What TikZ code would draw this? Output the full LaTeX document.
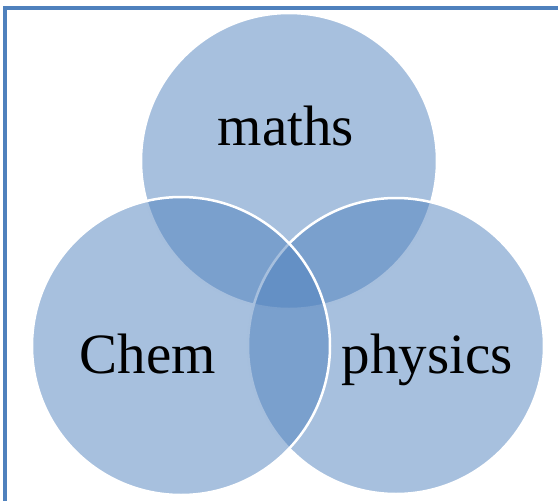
\documentclass[tikz,border=0pt]{standalone}
\usepackage{fontspec}
\setmainfont{Liberation Serif}
\definecolor{setblue}{HTML}{4F81BD}
\tikzset{
  setdisk/.style={fill=setblue, fill opacity=0.5, draw=white, line width=2.5pt},
  setlabel/.style={font=\fontsize{57}{60}\selectfont, inner sep=0pt, anchor=base}
}
\begin{document}
\begin{tikzpicture}[x=1pt, y=-1pt]
    \useasboundingbox (0,0) rectangle (558,501);
    \clip (0,0) rectangle (558,501);
    % frame
    \draw[setblue, line width=3.5pt] (5,520) -- (5,8) -- (580,8);
    % circle centres
    \coordinate (cm) at (289,161);
    \coordinate (cc) at (181,346);
    \coordinate (cp) at (396,346);
    % sets (drawn top, right, left)
    \filldraw[setdisk] (cm) circle (148);
    \filldraw[setdisk] (cp) circle (148);
    \filldraw[setdisk] (cc) circle (149);
    % labels
    \node[setlabel] (maths) at (286,145) {maths};
    \node[setlabel] (chem) at (148,373) {Chem};
    \node[setlabel] (physics) at (427,373) {physics};
\end{tikzpicture}
\end{document}
